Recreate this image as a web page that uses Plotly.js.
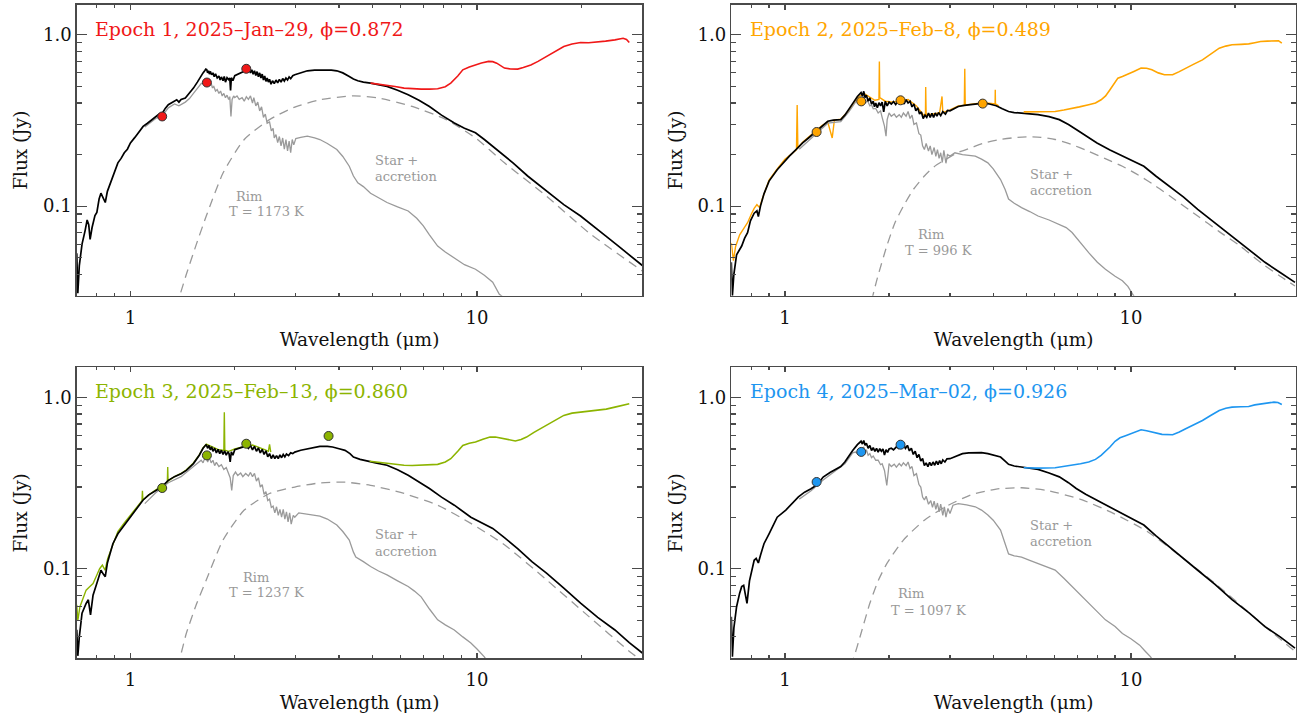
<!DOCTYPE html>
<html>
<head>
<meta charset="utf-8">
<script src="https://cdn.plot.ly/plotly-3.0.1.min.js"></script>
<style>html,body{margin:0;padding:0;background:#fff;}#chart{width:1312px;height:717px;}</style>
</head>
<body>
<div id="chart"></div>
<script>
// ---------------- DATA ----------------
const epochTitles = ["Epoch 1, 2025–Jan–29, ϕ=0.872", "Epoch 2, 2025–Feb–8, ϕ=0.489",
                     "Epoch 3, 2025–Feb–13, ϕ=0.860", "Epoch 4, 2025–Mar–02, ϕ=0.926"];
const rimLabels = ["T = 1173 K", "T = 996 K", "T = 1237 K", "T = 1097 K"];
const epochColors = ["#f01818", "#ffa500", "#8cb400", "#1e96f0"];
const xTickVals = [1, 10];
const xTickText = ["1", "10"];
const yTickVals = [0.1, 1];
const yTickText = ["0.1", "1.0"];
const xMinorVals = [0.8, 0.9, 2, 3, 4, 5, 6, 7, 8, 9, 20];
const yMinorVals = [0.04, 0.05, 0.06, 0.07, 0.08, 0.09, 0.2, 0.3, 0.4, 0.5, 0.6, 0.7, 0.8, 0.9];

// ---- Epoch 1 ----
const model1_wl = [0.700,0.705,0.712,0.725,0.740,0.750,0.758,0.765,0.775,0.790,0.800,0.812,0.822,0.833,0.846,0.858,0.869,0.890,0.920,0.940,0.960,0.980,1.000,1.030,1.060,1.088,1.120,1.150,1.183,1.210,1.240,1.260,1.286,1.310,1.340,1.360,1.380,1.400,1.440,1.480,1.520,1.560,
  1.600,1.620,1.640,1.650,1.660,1.670,1.680,1.690,1.700,1.715,1.730,1.745,1.760,1.780,1.800,1.815,1.830,1.850,1.865,1.880,1.900,1.920,1.935,1.945,1.955,1.975,2.000,2.030,2.060,2.100,2.130,2.160,2.180,2.200,2.220,2.240,2.260,2.280,2.300,2.320,2.340,2.360,2.380,2.400,2.420,2.440,2.460,2.480,2.500,2.520,2.545,2.570,2.600,2.630,2.660,2.690,2.720,2.750,2.780,2.810,2.840,2.870,2.900,2.940,2.980,3.100,
  3.240,3.400,3.620,3.800,3.940,4.100,4.280,4.400,4.530,4.700,4.930,5.200,5.500,5.900,6.330,6.800,7.290,7.900,8.600,9.200,9.900,10.500,11.100,11.900,12.700,14.000,15.900,17.800,19.900,21.500,23.500,25.700,27.900,30.000];
const model1_flux = [0.053,0.031,0.045,0.060,0.072,0.083,0.078,0.064,0.075,0.088,0.092,0.110,0.119,0.112,0.105,0.122,0.131,0.152,0.179,0.190,0.205,0.215,0.234,0.252,0.270,0.292,0.305,0.318,0.334,0.345,0.352,0.372,0.391,0.400,0.412,0.418,0.405,0.420,0.428,0.455,0.489,0.530,
  0.580,0.600,0.620,0.632,0.628,0.600,0.618,0.590,0.612,0.585,0.600,0.570,0.592,0.560,0.575,0.545,0.568,0.540,0.572,0.530,0.562,0.548,0.560,0.474,0.562,0.540,0.578,0.585,0.595,0.605,0.611,0.622,0.615,0.630,0.600,0.626,0.590,0.618,0.580,0.610,0.570,0.600,0.560,0.590,0.545,0.575,0.535,0.560,0.530,0.550,0.515,0.540,0.520,0.545,0.525,0.550,0.530,0.556,0.538,0.560,0.545,0.568,0.555,0.578,0.585,0.600,
  0.617,0.622,0.625,0.622,0.617,0.600,0.572,0.552,0.540,0.530,0.523,0.512,0.500,0.475,0.447,0.415,0.382,0.340,0.306,0.285,0.268,0.245,0.224,0.200,0.179,0.150,0.122,0.102,0.0876,0.077,0.067,0.058,0.051,0.045];
const star1_wl = [1.100,1.183,1.240,1.286,1.340,1.380,1.440,1.480,1.520,1.560,1.600,
  1.650,1.665,1.680,1.695,1.710,1.725,1.740,1.760,1.780,1.800,1.820,1.840,1.860,1.880,1.900,1.920,1.935,1.950,1.965,1.985,2.000,2.030,2.060,2.100,2.130,2.160,2.190,2.220,2.250,2.270,2.300,2.330,2.360,2.390,2.420,2.450,2.480,2.520,2.550,2.580,2.600,2.630,2.660,2.690,2.720,2.750,2.780,2.810,2.840,2.870,2.900,2.930,2.960,3.000,3.100,
  3.240,3.400,3.520,3.700,3.940,4.100,4.280,4.400,4.530,4.700,4.930,5.200,5.500,5.900,6.330,6.700,7.000,7.290,7.700,8.100,8.600,9.200,9.900,10.500,11.100,11.600,12.000];
const star1_flux = [0.290,0.325,0.340,0.375,0.395,0.385,0.405,0.425,0.455,0.490,0.520,
  0.530,0.500,0.540,0.505,0.520,0.490,0.500,0.470,0.480,0.455,0.470,0.440,0.455,0.430,0.445,0.420,0.436,0.334,0.420,0.440,0.430,0.440,0.420,0.430,0.410,0.435,0.420,0.440,0.400,0.430,0.385,0.405,0.360,0.380,0.330,0.345,0.305,0.310,0.275,0.285,0.250,0.262,0.235,0.255,0.225,0.250,0.215,0.245,0.210,0.240,0.205,0.245,0.228,0.248,0.252,
  0.256,0.250,0.245,0.232,0.214,0.195,0.171,0.150,0.137,0.130,0.119,0.112,0.105,0.099,0.0937,0.085,0.0767,0.068,0.0585,0.054,0.050,0.0455,0.0428,0.0395,0.0360,0.0306,0.029];
const rim1_wl = [1.350,1.387,1.450,1.550,1.655,1.850,2.130,2.520,2.980,3.520,4.400,5.200,6.500,8.150,9.900,12.000,15.900,21.000,30.000];
const rim1_flux = [0.026,0.030,0.040,0.060,0.0875,0.156,0.245,0.320,0.379,0.418,0.441,0.428,0.382,0.320,0.250,0.179,0.114,0.0701,0.0418];
const mir1_wl = [4.93,5.20,5.50,5.80,6.16,6.50,6.90,7.30,7.70,8.10,8.40,8.80,9.10,9.50,9.90,10.30,10.80,11.10,11.40,11.70,12.00,12.50,13.10,13.60,14.30,15.00,15.90,16.80,17.80,18.80,19.90,21.00,22.30,23.50,25.00,26.40,27.00,27.50];
const mir1_flux = [0.523,0.516,0.512,0.500,0.489,0.484,0.482,0.482,0.485,0.498,0.523,0.575,0.625,0.650,0.668,0.685,0.700,0.698,0.684,0.662,0.640,0.632,0.631,0.645,0.668,0.700,0.748,0.800,0.855,0.885,0.902,0.900,0.906,0.920,0.935,0.956,0.940,0.902];
const phot1_wl = [1.235, 1.662, 2.159];
const phot1_flux = [0.334, 0.527, 0.634];

// ---- Epoch 2 ----
const model2_wl = [0.700,0.705,0.712,0.725,0.750,0.765,0.780,0.795,0.815,0.830,0.838,0.850,0.870,0.900,0.950,1.000,1.030,1.080,1.125,1.170,1.220,1.280,1.330,1.380,1.450,1.490,1.530,1.580,
  1.620,1.640,1.660,1.675,1.690,1.705,1.720,1.740,1.760,1.780,1.800,1.815,1.830,1.850,1.870,1.890,1.910,1.930,1.950,1.975,2.000,2.030,2.060,2.090,2.120,2.150,2.180,2.210,2.240,2.270,2.300,2.330,2.360,2.390,2.420,2.450,2.480,2.510,2.540,2.570,2.600,2.630,2.660,2.690,2.720,2.750,2.780,2.820,2.860,2.910,2.950,3.000,
  3.170,3.300,3.450,3.600,3.750,3.900,4.080,4.250,4.430,4.600,4.830,5.100,5.390,5.800,6.210,6.600,6.950,7.400,7.980,8.700,9.450,10.200,10.900,11.800,12.900,14.200,15.600,17.500,19.600,22.000,24.400,27.000,29.800];
const model2_flux = [0.047,0.030,0.040,0.052,0.0585,0.065,0.070,0.082,0.091,0.094,0.087,0.100,0.118,0.140,0.163,0.185,0.196,0.215,0.234,0.250,0.268,0.292,0.313,0.318,0.320,0.340,0.366,0.405,
  0.437,0.450,0.460,0.440,0.468,0.430,0.445,0.410,0.428,0.395,0.410,0.380,0.400,0.375,0.402,0.385,0.405,0.355,0.409,0.385,0.405,0.395,0.408,0.392,0.410,0.398,0.415,0.395,0.418,0.400,0.410,0.380,0.395,0.360,0.375,0.345,0.355,0.325,0.340,0.330,0.350,0.330,0.348,0.330,0.350,0.335,0.352,0.338,0.356,0.345,0.362,0.360,
  0.382,0.388,0.391,0.396,0.400,0.395,0.386,0.370,0.357,0.352,0.350,0.346,0.342,0.333,0.320,0.300,0.280,0.258,0.234,0.213,0.196,0.183,0.171,0.150,0.131,0.113,0.0958,0.080,0.067,0.056,0.047,0.041,0.0359];
const star2_wl = [1.100,1.220,1.330,1.450,1.530,
  1.620,1.640,1.660,1.690,1.710,1.730,1.760,1.780,1.800,1.830,1.860,1.890,1.910,1.940,1.960,1.975,2.000,2.030,2.070,2.100,2.140,2.170,2.200,2.240,2.270,2.300,2.330,2.360,2.400,2.440,2.470,2.500,2.530,2.560,2.600,2.630,2.660,2.700,2.730,2.760,2.790,2.820,2.850,2.880,2.920,2.950,3.000,
  3.100,3.260,3.400,3.550,3.700,3.860,4.000,4.200,4.330,4.430,4.600,4.830,5.100,5.390,5.800,6.210,6.500,6.760,7.100,7.550,8.000,8.440,9.000,9.450,9.800,10.100,10.400];
const star2_flux = [0.215,0.260,0.305,0.312,0.355,
  0.420,0.400,0.430,0.440,0.400,0.415,0.385,0.390,0.370,0.372,0.350,0.360,0.330,0.293,0.256,0.320,0.350,0.335,0.345,0.330,0.342,0.330,0.350,0.335,0.357,0.325,0.340,0.300,0.306,0.265,0.260,0.225,0.214,0.232,0.210,0.225,0.200,0.220,0.195,0.214,0.190,0.205,0.180,0.212,0.178,0.200,0.196,
  0.205,0.200,0.198,0.196,0.188,0.179,0.165,0.143,0.125,0.110,0.104,0.098,0.093,0.0876,0.083,0.078,0.075,0.0701,0.062,0.0535,0.047,0.0428,0.039,0.0367,0.034,0.0306,0.028];
const rim2_wl = [1.780,1.850,1.970,2.080,2.200,2.350,2.530,2.700,2.910,3.150,3.450,3.800,4.200,4.600,5.100,5.500,6.040,6.700,7.550,8.400,9.450,10.500,11.800,13.500,15.600,18.000,20.700,24.000,27.000,29.800];
const rim2_flux = [0.028,0.038,0.0585,0.080,0.100,0.125,0.150,0.170,0.187,0.205,0.219,0.235,0.245,0.251,0.254,0.252,0.245,0.230,0.209,0.190,0.171,0.152,0.131,0.108,0.0876,0.071,0.0585,0.046,0.039,0.0342];
const mir2_wl = [4.90,5.40,6.04,6.40,6.76,7.10,7.55,7.90,8.20,8.45,8.70,8.95,9.17,9.45,9.72,10.20,10.70,11.10,11.50,12.00,12.50,13.20,13.80,14.40,15.20,16.10,17.00,18.00,18.80,19.60,20.80,21.90,22.80,23.70,24.80,25.90,26.70,27.30];
const mir2_flux = [0.355,0.355,0.357,0.364,0.374,0.380,0.391,0.400,0.418,0.440,0.478,0.520,0.559,0.572,0.585,0.612,0.640,0.638,0.625,0.600,0.585,0.585,0.610,0.640,0.675,0.715,0.770,0.836,0.860,0.875,0.880,0.886,0.900,0.915,0.920,0.927,0.925,0.894];
const nir2_wl = [0.700,0.710,0.720,0.740,0.760,0.780,0.800,0.815,0.830,0.845,0.860,0.880,0.900,0.950,1.000,1.040,1.080,1.085,1.090,1.125,1.170,1.220,1.280,1.330,1.370,1.390,1.450,1.530,1.620,1.690,1.760,1.820,1.870,1.875,1.880,1.950,2.050,2.140,2.270,2.400,2.500,2.548,2.552,2.560,2.680,2.800,2.845,2.860,3.000,3.170,3.300,3.310,3.320,3.500,3.750,3.950,4.050,4.055,4.060,4.150];
const nir2_flux = [0.061,0.048,0.058,0.068,0.074,0.080,0.090,0.097,0.102,0.098,0.110,0.125,0.142,0.165,0.188,0.200,0.214,0.390,0.218,0.236,0.252,0.270,0.295,0.310,0.250,0.318,0.322,0.362,0.430,0.455,0.430,0.415,0.420,0.700,0.430,0.410,0.405,0.412,0.420,0.385,0.345,0.335,0.496,0.340,0.345,0.350,0.437,0.352,0.365,0.385,0.388,0.634,0.390,0.395,0.402,0.398,0.395,0.478,0.395,0.385];
const phot2_wl = [1.235, 1.662, 2.159, 3.73];
const phot2_flux = [0.271, 0.409, 0.415, 0.397];

// ---- Epoch 3 ----
const model3_wl = [0.700,0.705,0.712,0.725,0.745,0.756,0.767,0.780,0.800,0.812,0.822,0.835,0.846,0.858,0.869,0.890,0.920,0.960,1.000,1.040,1.088,1.130,1.183,1.230,1.286,1.340,1.400,1.450,1.520,1.580,
  1.620,1.640,1.655,1.670,1.685,1.700,1.715,1.730,1.750,1.770,1.790,1.810,1.830,1.850,1.870,1.890,1.910,1.925,1.940,1.955,1.975,2.000,2.030,2.060,2.100,2.130,2.160,2.190,2.220,2.250,2.280,2.310,2.340,2.370,2.400,2.430,2.460,2.490,2.520,2.550,2.580,2.610,2.640,2.670,2.700,2.730,2.760,2.790,2.820,2.860,2.900,2.940,2.980,3.100,
  3.240,3.400,3.520,3.700,3.830,4.000,4.160,4.300,4.400,4.600,4.790,5.100,5.500,5.900,6.330,6.800,7.290,7.900,8.600,9.600,10.300,11.100,12.000,13.100,14.400,15.900,17.800,19.900,22.300,25.000,27.500,30.000];
const model3_flux = [0.044,0.031,0.040,0.055,0.0627,0.0659,0.0537,0.070,0.0822,0.092,0.098,0.093,0.0898,0.108,0.117,0.140,0.160,0.180,0.200,0.225,0.252,0.270,0.287,0.300,0.328,0.345,0.359,0.375,0.411,0.460,
  0.505,0.525,0.532,0.505,0.525,0.495,0.515,0.485,0.505,0.475,0.498,0.470,0.492,0.465,0.488,0.460,0.482,0.470,0.420,0.482,0.460,0.495,0.500,0.505,0.510,0.514,0.522,0.505,0.525,0.495,0.518,0.485,0.508,0.475,0.498,0.465,0.488,0.450,0.470,0.440,0.462,0.440,0.458,0.440,0.462,0.445,0.465,0.450,0.468,0.458,0.475,0.470,0.480,0.492,
  0.502,0.512,0.518,0.518,0.514,0.502,0.491,0.470,0.449,0.435,0.426,0.415,0.402,0.378,0.351,0.322,0.294,0.262,0.235,0.200,0.186,0.172,0.152,0.131,0.110,0.094,0.077,0.0629,0.052,0.0439,0.037,0.0322];
const star3_wl = [1.100,1.183,1.286,1.400,1.520,
  1.600,1.620,1.640,1.655,1.670,1.690,1.710,1.730,1.750,1.770,1.800,1.830,1.860,1.890,1.910,1.940,1.960,1.980,2.010,2.040,2.080,2.110,2.150,2.190,2.220,2.250,2.280,2.310,2.340,2.370,2.400,2.430,2.460,2.490,2.520,2.550,2.580,2.610,2.640,2.670,2.700,2.730,2.760,2.790,2.820,2.850,2.880,2.910,2.950,2.980,3.060,
  3.150,3.300,3.520,3.700,3.940,4.100,4.280,4.400,4.470,4.700,4.930,5.200,5.500,5.900,6.330,6.600,6.900,7.300,7.700,8.100,8.600,9.100,9.600,10.000,10.500,10.800];
const star3_flux = [0.240,0.278,0.318,0.345,0.395,
  0.430,0.415,0.445,0.449,0.420,0.445,0.415,0.430,0.400,0.418,0.395,0.405,0.380,0.390,0.365,0.340,0.287,0.350,0.367,0.350,0.362,0.345,0.360,0.348,0.365,0.345,0.360,0.325,0.340,0.300,0.310,0.272,0.282,0.250,0.255,0.228,0.232,0.212,0.230,0.205,0.222,0.200,0.222,0.195,0.215,0.188,0.212,0.182,0.205,0.200,0.212,
  0.210,0.207,0.203,0.195,0.180,0.165,0.147,0.125,0.117,0.110,0.103,0.097,0.0921,0.085,0.0787,0.074,0.0685,0.058,0.0503,0.047,0.0439,0.040,0.0368,0.034,0.0306,0.028];
const rim3_wl = [1.350,1.387,1.450,1.550,1.655,1.850,2.130,2.520,2.980,3.520,4.160,4.930,6.160,7.700,9.600,12.000,15.900,21.000,27.900,30.000];
const rim3_flux = [0.027,0.030,0.042,0.062,0.0859,0.147,0.220,0.275,0.300,0.317,0.320,0.307,0.275,0.235,0.184,0.138,0.0859,0.0527,0.0322,0.029];
const mir3_wl = [4.90,5.20,5.50,5.80,6.16,6.50,6.90,7.30,7.70,8.10,8.40,8.80,9.10,9.50,9.90,10.40,10.90,11.30,11.70,12.30,12.90,13.40,13.90,14.60,15.50,16.60,17.80,18.80,19.90,21.00,22.30,23.60,25.00,26.30,27.50];
const mir3_flux = [0.424,0.418,0.414,0.408,0.402,0.401,0.402,0.404,0.407,0.420,0.439,0.485,0.525,0.540,0.550,0.570,0.587,0.588,0.580,0.565,0.557,0.568,0.587,0.625,0.672,0.730,0.786,0.810,0.821,0.830,0.840,0.855,0.878,0.900,0.918];
const nir3_wl = [0.700,0.705,0.715,0.730,0.745,0.760,0.780,0.800,0.815,0.830,0.845,0.860,0.880,0.920,0.960,1.000,1.040,1.080,1.083,1.086,1.130,1.183,1.230,1.278,1.281,1.284,1.340,1.400,1.450,1.520,1.580,1.620,1.655,1.700,1.750,1.800,1.860,1.866,1.872,1.920,2.000,2.130,2.250,2.380,2.450,2.500,2.520,2.540];
const nir3_flux = [0.0615,0.050,0.060,0.068,0.075,0.078,0.082,0.092,0.100,0.105,0.098,0.115,0.130,0.165,0.185,0.205,0.228,0.250,0.285,0.252,0.270,0.290,0.305,0.320,0.393,0.325,0.345,0.360,0.378,0.415,0.462,0.508,0.535,0.520,0.505,0.495,0.490,0.820,0.492,0.485,0.500,0.518,0.528,0.508,0.495,0.485,0.532,0.480];
const phot3_wl = [1.235, 1.662, 2.159, 3.73];
const phot3_flux = [0.296, 0.459, 0.537, 0.596];

// ---- Epoch 4 ----
const model4_wl = [0.700,0.705,0.712,0.725,0.740,0.750,0.760,0.770,0.777,0.790,0.800,0.815,0.826,0.838,0.850,0.870,0.900,0.950,1.006,1.050,1.094,1.140,1.190,1.240,1.290,1.350,1.410,1.450,1.490,1.530,1.570,
  1.620,1.640,1.660,1.675,1.690,1.705,1.720,1.740,1.760,1.780,1.800,1.820,1.840,1.860,1.880,1.900,1.920,1.940,1.960,1.980,2.000,2.030,2.060,2.100,2.130,2.160,2.200,2.230,2.260,2.290,2.320,2.350,2.380,2.410,2.440,2.470,2.500,2.530,2.560,2.590,2.620,2.650,2.680,2.710,2.740,2.770,2.800,2.830,2.860,2.900,2.940,3.000,
  3.130,3.260,3.400,3.550,3.700,3.860,4.000,4.200,4.330,4.430,4.600,4.830,5.100,5.390,5.800,6.210,6.600,6.950,7.400,7.980,8.700,9.450,10.200,10.900,11.800,12.900,14.200,15.600,17.500,19.600,22.000,24.400,27.000,29.800];
const model4_flux = [0.0525,0.0306,0.045,0.060,0.072,0.0786,0.080,0.070,0.0628,0.085,0.095,0.112,0.115,0.108,0.120,0.140,0.160,0.200,0.220,0.240,0.263,0.280,0.293,0.310,0.343,0.365,0.384,0.395,0.420,0.455,0.490,
  0.530,0.545,0.555,0.535,0.561,0.525,0.540,0.505,0.525,0.490,0.510,0.485,0.505,0.480,0.502,0.485,0.500,0.462,0.496,0.478,0.500,0.505,0.495,0.515,0.505,0.525,0.532,0.505,0.525,0.488,0.505,0.465,0.485,0.445,0.465,0.425,0.440,0.400,0.415,0.395,0.418,0.400,0.420,0.402,0.425,0.405,0.428,0.410,0.432,0.420,0.438,0.439,
  0.455,0.470,0.475,0.478,0.476,0.470,0.462,0.449,0.425,0.407,0.398,0.393,0.386,0.380,0.362,0.344,0.318,0.294,0.272,0.251,0.230,0.210,0.194,0.180,0.156,0.134,0.115,0.098,0.081,0.066,0.055,0.0459,0.040,0.0344];
const star4_wl = [1.100,1.190,1.290,1.410,1.490,1.570,
  1.600,1.620,1.640,1.660,1.690,1.705,1.720,1.740,1.760,1.780,1.800,1.830,1.860,1.890,1.910,1.940,1.970,1.990,2.000,2.030,2.070,2.100,2.140,2.170,2.200,2.240,2.270,2.300,2.330,2.360,2.400,2.440,2.470,2.500,2.530,2.560,2.600,2.640,2.670,2.700,2.730,2.760,2.790,2.820,2.860,2.890,2.920,2.960,3.000,3.060,3.170,
  3.350,3.550,3.700,3.860,4.000,4.200,4.330,4.430,4.600,4.830,5.100,5.390,5.700,6.040,6.400,6.760,7.150,7.550,8.000,8.440,9.000,9.450,10.000,10.600,11.000,11.400,11.700];
const star4_flux = [0.255,0.285,0.330,0.375,0.410,0.475,
  0.480,0.470,0.505,0.490,0.514,0.480,0.495,0.460,0.470,0.445,0.455,0.430,0.430,0.405,0.410,0.375,0.307,0.370,0.411,0.395,0.408,0.392,0.411,0.398,0.415,0.400,0.420,0.385,0.395,0.350,0.359,0.310,0.300,0.262,0.252,0.265,0.238,0.250,0.228,0.248,0.222,0.242,0.215,0.238,0.205,0.230,0.200,0.225,0.210,0.235,0.240,
  0.236,0.230,0.220,0.206,0.192,0.168,0.140,0.122,0.119,0.117,0.112,0.107,0.103,0.0982,0.088,0.0786,0.070,0.0628,0.056,0.0503,0.046,0.0419,0.039,0.0358,0.033,0.0306,0.028];
const rim4_wl = [1.550,1.580,1.660,1.760,1.860,1.970,2.200,2.530,2.910,3.450,4.080,4.830,5.700,7.200,8.930,11.200,14.000,17.500,23.200,29.800];
const rim4_flux = [0.027,0.030,0.042,0.0628,0.085,0.107,0.147,0.192,0.230,0.270,0.292,0.297,0.287,0.253,0.210,0.164,0.117,0.0822,0.0503,0.0329];
const mir4_wl = [4.90,5.39,6.04,6.40,6.76,7.15,7.55,7.90,8.20,8.45,8.70,9.00,9.30,9.65,10.00,10.35,10.70,11.10,11.50,12.30,13.20,13.80,14.40,15.20,16.10,17.00,18.00,18.80,19.60,20.80,21.90,22.80,23.70,24.80,25.90,26.60,27.30];
const mir4_flux = [0.389,0.387,0.389,0.395,0.402,0.410,0.420,0.435,0.459,0.485,0.514,0.555,0.582,0.598,0.614,0.632,0.648,0.640,0.628,0.609,0.606,0.628,0.657,0.692,0.734,0.785,0.840,0.865,0.878,0.882,0.886,0.905,0.918,0.930,0.939,0.935,0.910];
const phot4_wl = [1.235, 1.662, 2.159];
const phot4_flux = [0.321, 0.481, 0.530];

// ---------------- BUILD ----------------
const panels = [
  {model:[model1_wl,model1_flux], star:[star1_wl,star1_flux], rim:[rim1_wl,rim1_flux], mir:[mir1_wl,mir1_flux], nir:null, phot:[phot1_wl,phot1_flux]},
  {model:[model2_wl,model2_flux], star:[star2_wl,star2_flux], rim:[rim2_wl,rim2_flux], mir:[mir2_wl,mir2_flux], nir:[nir2_wl,nir2_flux], phot:[phot2_wl,phot2_flux]},
  {model:[model3_wl,model3_flux], star:[star3_wl,star3_flux], rim:[rim3_wl,rim3_flux], mir:[mir3_wl,mir3_flux], nir:[nir3_wl,nir3_flux], phot:[phot3_wl,phot3_flux]},
  {model:[model4_wl,model4_flux], star:[star4_wl,star4_flux], rim:[rim4_wl,rim4_flux], mir:[mir4_wl,mir4_flux], nir:null, phot:[phot4_wl,phot4_flux]}
];

const FONT = "DejaVu Serif";
const AX = "#4a4a4a";
const traces = [];
const annotations = [];
const layout = {
  width: 1312, height: 717,
  margin: {l:0, r:0, t:0, b:0},
  paper_bgcolor: "#fff", plot_bgcolor: "#fff",
  showlegend: false,
  font: {family: FONT, size: 18, color: "#111"}
};

const xDomains = [[0.0585, 0.4896], [0.5574, 0.9878], [0.0585, 0.4896], [0.5574, 0.9878]];
const yDomains = [[0.5876, 0.9934], [0.5876, 0.9934], [0.0819, 0.4877], [0.0819, 0.4877]];
const rimPos = [
  {rim:[0.3046,0.3426], t:[0.3347,0.2887], star:[0.5233,0.4663], acc:[0.5233,0.4089]},
  {rim:[0.3536,0.2086], t:[0.3678,0.1546], star:[0.5254,0.4182], acc:[0.5254,0.3608]},
  {rim:[0.3170,0.2770], t:[0.3347,0.2244], star:[0.5233,0.4261], acc:[0.5233,0.3687]},
  {rim:[0.3182,0.2220], t:[0.3492,0.1650], star:[0.5254,0.4570], acc:[0.5254,0.4020]}
];

panels.forEach((p, i) => {
  const n = i === 0 ? "" : String(i + 1);
  const xa = "x" + n, ya = "y" + n;
  const col = epochColors[i];
  if (p.nir) traces.push({x:p.nir[0], y:p.nir[1], xaxis:xa, yaxis:ya, type:"scatter", mode:"lines", line:{color:col, width:1.4}, hoverinfo:"skip"});
  traces.push({x:p.star[0], y:p.star[1], xaxis:xa, yaxis:ya, type:"scatter", mode:"lines", line:{color:"#9a9a9a", width:1.3}, hoverinfo:"skip"});
  traces.push({x:p.rim[0], y:p.rim[1], xaxis:xa, yaxis:ya, type:"scatter", mode:"lines", line:{color:"#999999", width:1.3, dash:"9px,6px", shape:"spline", smoothing:0.6}, hoverinfo:"skip"});
  traces.push({x:p.model[0], y:p.model[1], xaxis:xa, yaxis:ya, type:"scatter", mode:"lines", line:{color:"#000", width:1.7}, hoverinfo:"skip"});
  traces.push({x:p.mir[0], y:p.mir[1], xaxis:xa, yaxis:ya, type:"scatter", mode:"lines", line:{color:col, width:1.6}, hoverinfo:"skip"});
  traces.push({x:p.phot[0], y:p.phot[1], xaxis:xa, yaxis:ya, type:"scatter", mode:"markers", marker:{color:col, size:9, line:{color:"#333", width:1}}, hoverinfo:"skip"});

  layout["xaxis" + n] = {
    type:"log", range:[Math.log10(0.7), Math.log10(30)], domain:xDomains[i], anchor:ya,
    showline:true, linecolor:AX, linewidth:1.5, mirror:"allticks",
    ticks:"inside", ticklen:5, tickwidth:1.2, tickcolor:AX,
    tickmode:"array", tickvals:xTickVals, ticktext:xTickText, ticklabelstandoff:5,
    minor:{tickmode:"array", tickvals:xMinorVals, ticks:"inside", ticklen:3, tickwidth:1.2, tickcolor:AX, showgrid:false},
    showgrid:false, zeroline:false, fixedrange:true,
    tickfont:{family:FONT, size:18, color:"#111"},
    title:{text:"Wavelength (μm)", font:{family:FONT, size:18.5, color:"#111"}, standoff:6}
  };
  layout["yaxis" + n] = {
    type:"log", range:[Math.log10(0.03), Math.log10(1.5)], domain:yDomains[i], anchor:xa,
    showline:true, linecolor:AX, linewidth:1.5, mirror:"allticks",
    ticks:"inside", ticklen:10, tickwidth:1.2, tickcolor:AX,
    tickmode:"array", tickvals:yTickVals, ticktext:yTickText,
    minor:{tickmode:"array", tickvals:yMinorVals, ticks:"inside", ticklen:5, tickwidth:1.2, tickcolor:AX, showgrid:false},
    showgrid:false, zeroline:false, fixedrange:true,
    tickfont:{family:FONT, size:18, color:"#111"},
    title:{text:"Flux (Jy)", font:{family:FONT, size:18.5, color:"#111"}, standoff:10}
  };

  const xr = xa + " domain", yr = ya + " domain";
  annotations.push({xref:xr, yref:yr, x:0.0288, y:0.917, xanchor:"left", yanchor:"middle", showarrow:false,
    text:epochTitles[i], font:{family:FONT, size:19, color:col}});
  const rp = rimPos[i];
  const gfont = {family:FONT, size:13, color:"#999999"};
  annotations.push({xref:xr, yref:yr, x:rp.rim[0], y:rp.rim[1], xanchor:"center", yanchor:"middle", showarrow:false, text:"Rim", font:gfont});
  annotations.push({xref:xr, yref:yr, x:rp.t[0], y:rp.t[1], xanchor:"center", yanchor:"middle", showarrow:false, text:rimLabels[i], font:gfont});
  annotations.push({xref:xr, yref:yr, x:rp.star[0], y:rp.star[1], xanchor:"left", yanchor:"middle", showarrow:false, text:"Star +", font:gfont});
  annotations.push({xref:xr, yref:yr, x:rp.acc[0], y:rp.acc[1], xanchor:"left", yanchor:"middle", showarrow:false, text:"accretion", font:gfont});
});
layout.annotations = annotations;

Plotly.newPlot("chart", traces, layout, {staticPlot:true, displayModeBar:false});
</script>
</body>
</html>
